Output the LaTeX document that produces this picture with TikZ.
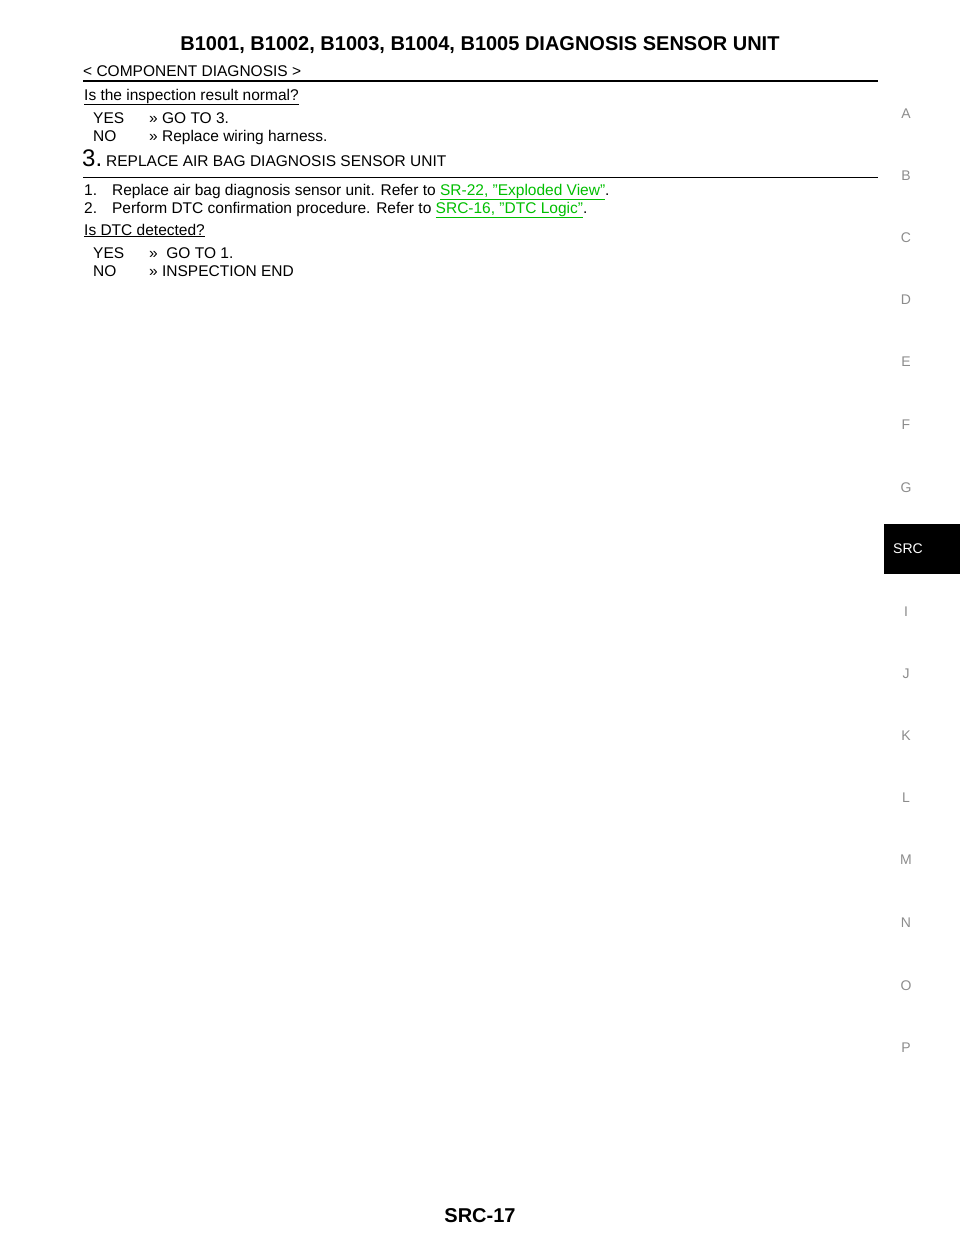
\documentclass[tikz,border=0pt]{standalone}
\usepackage{fontspec}
\setmainfont{Liberation Sans}
\usetikzlibrary{positioning}
\definecolor{linkgreen}{RGB}{0,190,0}
\tikzset{
  txt/.style={anchor=base west,inner sep=0pt,font=\fontsize{15.5}{18}\selectfont},
  side/.style={anchor=center,inner sep=0pt,text=black!45,font=\fontsize{14}{16}\selectfont}
}
\newcommand{\lnk}[1]{\textcolor{linkgreen}{\underline{#1}}}
\begin{document}
\begin{tikzpicture}[x=1pt,y=-1pt]
\useasboundingbox (0,0) rectangle (960,1242);
% header
\node[anchor=base,inner sep=0pt,font=\fontsize{20}{22}\selectfont\bfseries] (title) at (480,50) {B1001, B1002, B1003, B1004, B1005 DIAGNOSIS SENSOR UNIT};
\node[txt] (sect) at (83,76) {< COMPONENT DIAGNOSIS >};
\draw[line width=1.8pt] (83,81) -- (878,81);
% step 2 end
\node[txt] (q2) at (84,100) {\underline{Is the inspection result normal?}};
\node[txt] (yes2) at (93,123) {YES};
\node[txt] (yes2a) at (149,123) {>> GO TO 3.};
\node[txt] (no2) at (93,141) {NO};
\node[txt] (no2a) at (149,141) {>> Replace wiring harness.};
% step 3
\node[txt,font=\fontsize{24}{26}\selectfont] (s3) at (82,166) {3.};
\node[txt] (s3t) at (106,166) {REPLACE AIR BAG DIAGNOSIS SENSOR UNIT};
\draw[line width=0.6pt] (83,177) -- (878,177);
\node[txt] (i1) at (84,195) {1.\hspace{15pt}Replace air bag diagnosis sensor unit. Refer to \lnk{SR-22, "Exploded View"}.};
\node[txt] (i2) at (84,213) {2.\hspace{15pt}Perform DTC confirmation procedure. Refer to \lnk{SRC-16, "DTC Logic"}.};
\node[txt] (q3) at (84,235) {\underline{Is DTC detected?}};
\node[txt] (yes3) at (93,258) {YES};
\node[txt] (yes3a) at (149,258) {>>\ \ GO TO 1.};
\node[txt] (no3) at (93,276) {NO};
\node[txt] (no3a) at (149,276) {>> INSPECTION END};
% side index
\foreach \l/\y in {A/114,B/176,C/238,D/300,E/362,F/425,G/488,I/612,J/674,K/736,L/798,M/860,N/923,O/986,P/1048}
  \node[side] (side\l) at (906,\y) {\l};
\fill[black] (884,524) rectangle (960,574);
\node[side,text=white] (sideSRC) at (908,549) {SRC};
% footer
\node[anchor=base,inner sep=0pt,font=\fontsize{20}{22}\selectfont\bfseries] (page) at (480,1222) {SRC-17};
\end{tikzpicture}
\end{document}
